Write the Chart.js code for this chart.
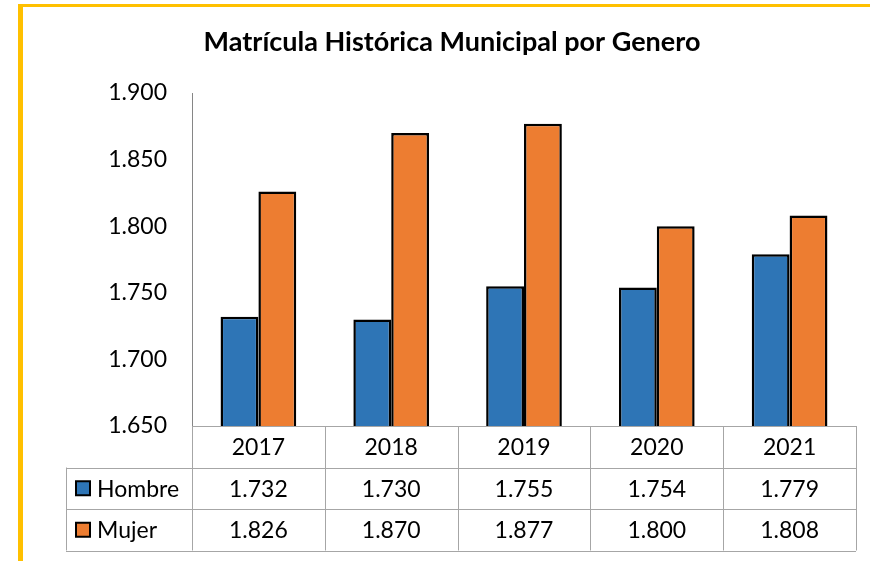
<!DOCTYPE html>
<html>
<head>
<meta charset="utf-8">
<script src="https://cdn.jsdelivr.net/npm/chart.js@4"></script>
<style>
  html, body { margin: 0; padding: 0; background: #fff; }
  #wrap { width: 870px; height: 561px; position: relative; }
</style>
</head>
<body>
<div id="wrap"><canvas id="c" width="870" height="561"></canvas></div>
<script>
const categories = ['2017', '2018', '2019', '2020', '2021'];
const hombre = [1732, 1730, 1755, 1754, 1779];
const mujer = [1826, 1870, 1877, 1800, 1808];
const seriesNames = ['Hombre', 'Mujer'];
const titleText = 'Matrícula Histórica Municipal por Genero';
const yMin = 1650, yMax = 1900, yStep = 50;

const BLUE = '#2E75B6';
const ORANGE = '#ED7D31';
const GRID = '#A6A6A6';
const FONT = 'Lato, "Open Sans", sans-serif';

function fmt(v) {
  const s = String(Math.round(v));
  return s.replace(/\B(?=(\d{3})+(?!\d))/g, '.');
}

const frame = {
  id: 'frame',
  beforeDraw(chart) {
    const ctx = chart.ctx;
    ctx.save();
    ctx.fillStyle = '#fff';
    ctx.fillRect(0, 0, chart.width, chart.height);
    ctx.fillStyle = '#FFC000';
    ctx.fillRect(18, 4, chart.width - 18, 3);
    ctx.fillRect(18, 4, 5, chart.height - 4);
    ctx.restore();
  }
};

const dataTable = {
  id: 'dataTable',
  afterDraw(chart) {
    const ctx = chart.ctx;
    const x = chart.scales.x;
    const area = chart.chartArea;
    const n = categories.length;
    const w = (area.right - area.left) / n;
    const top = area.bottom;
    const rowH = 41.5;
    const legendLeft = 66;
    const rows = [top, top + rowH, top + 2 * rowH, top + 3 * rowH];
    ctx.save();
    ctx.strokeStyle = GRID;
    ctx.lineWidth = 1;
    ctx.beginPath();
    ctx.moveTo(area.left, rows[0] + 0.5); ctx.lineTo(area.right, rows[0] + 0.5);
    for (let r = 1; r <= 3; r++) {
      ctx.moveTo(legendLeft, Math.round(rows[r]) + 0.5);
      ctx.lineTo(area.right, Math.round(rows[r]) + 0.5);
    }
    for (let i = 0; i <= n; i++) {
      const px = Math.round(x.getPixelForValue(i) - w / 2) + 0.5;
      const xx = i === n ? Math.round(x.getPixelForValue(n - 1) + w / 2) + 0.5 : px;
      ctx.moveTo(xx, rows[0]); ctx.lineTo(xx, rows[3]);
    }
    ctx.moveTo(legendLeft + 0.5, rows[1]); ctx.lineTo(legendLeft + 0.5, rows[3]);
    ctx.stroke();

    ctx.fillStyle = '#000';
    ctx.font = '23px ' + FONT;
    ctx.textAlign = 'center';
    ctx.textBaseline = 'middle';
    const series = [hombre, mujer];
    for (let i = 0; i < n; i++) {
      const cx = x.getPixelForValue(i);
      ctx.fillText(categories[i], cx, (rows[0] + rows[1]) / 2 + 1);
      for (let s = 0; s < 2; s++) {
        ctx.fillText(fmt(series[s][i]), cx, (rows[s + 1] + rows[s + 2]) / 2 + 1);
      }
    }
    const colors = [BLUE, ORANGE];
    ctx.textAlign = 'left';
    for (let s = 0; s < 2; s++) {
      const cy = (rows[s + 1] + rows[s + 2]) / 2;
      ctx.fillStyle = '#000';
      ctx.fillRect(75, cy - 8, 16, 16);
      ctx.fillStyle = colors[s];
      ctx.fillRect(77, cy - 6, 12, 12);
      ctx.fillStyle = '#000';
      ctx.fillText(seriesNames[s], 97, cy + 1);
    }
    ctx.restore();
  }
};

new Chart(document.getElementById('c'), {
  type: 'bar',
  data: {
    labels: categories,
    datasets: [
      { label: seriesNames[0], data: hombre, backgroundColor: BLUE, borderColor: '#000', borderWidth: 2.5, borderSkipped: false },
      { label: seriesNames[1], data: mujer, backgroundColor: ORANGE, borderColor: '#000', borderWidth: 2.5, borderSkipped: false }
    ]
  },
  options: {
    responsive: false,
    animation: false,
    events: [],
    layout: { padding: { left: 48, right: 14, top: 0, bottom: 135 } },
    datasets: { bar: { categoryPercentage: 0.57, barPercentage: 1.0 } },
    plugins: {
      legend: { display: false },
      tooltip: { enabled: false },
      title: {
        display: true,
        text: titleText,
        color: '#000',
        font: { family: FONT, size: 27, weight: 'bold', lineHeight: 1.2 },
        padding: { top: 25.8, bottom: 34.8 }
      }
    },
    scales: {
      x: {
        display: false,
        offset: true,
        grid: { display: false }
      },
      y: {
        min: yMin, max: yMax,
        afterFit(scale) { scale.width = 144; },
        grid: { display: false, drawTicks: false },
        border: { display: true, color: '#868686', width: 1 },
        ticks: {
          stepSize: yStep,
          padding: 25,
          color: '#000',
          font: { family: FONT, size: 23 },
          callback: (v) => fmt(v)
        }
      }
    }
  },
  plugins: [frame, dataTable]
});
</script>
</body>
</html>
